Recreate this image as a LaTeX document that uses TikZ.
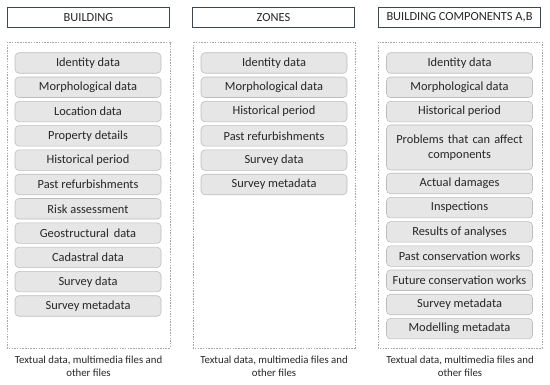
\documentclass[tikz,border=0pt]{standalone}
\usepackage{fontspec}
\setmainfont{Carlito}
\usetikzlibrary{positioning}
\definecolor{HdrBord}{HTML}{3E4651}
\definecolor{ItmFill}{HTML}{E6E6E6}
\definecolor{ItmBord}{HTML}{BDBDBD}
\definecolor{GrpBord}{HTML}{A3A8AE}
\definecolor{TxtMain}{HTML}{262626}
\tikzset{
  every picture/.append style={font=\fontsize{12.4}{14.5}\selectfont, text=TxtMain},
  hdr/.style={rectangle, draw=HdrBord, line width=1.4pt, fill=white,
              minimum width=162pt, minimum height=20pt, inner sep=0pt},
  itm/.style={rectangle, rounded corners=4pt, draw=ItmBord, fill=ItmFill, line width=0.6pt,
              minimum width=146pt, minimum height=20.5pt, inner sep=0pt, align=center},
  grp/.style={draw=GrpBord, line width=0.6pt, dash pattern=on 1.5pt off 1.2pt},
  ftr/.style={align=center, font=\fontsize{10.8}{13.5}\selectfont},
}
\begin{document}
\begin{tikzpicture}[x=1pt,y=1pt]
\useasboundingbox (0,0) rectangle (550,-385);

% ---------------- group backdrops -------------------------------------------------
\draw[grp] (7,-42) rectangle (170,-348);
\draw[grp] (193,-42) rectangle (355,-348);
\draw[grp] (378,-42) rectangle (542,-348);

% ---------------- headers ---------------------------------------------------------
\node[hdr] (hB) at (88.5,-17.5) {BUILDING};
\node[hdr] (hZ) at (273.5,-17.5) {ZONES};
\node[hdr] (hC) at (459.5,-17.5) {BUILDING COMPONENTS A,B};

% ---------------- building --------------------------------------------------------
\node[itm] (b1)  at (88,-63)    {Identity data};
\node[itm] (b2)  at (88,-87.3)  {Morphological data};
\node[itm] (b3)  at (88,-111.6) {Location data};
\node[itm] (b4)  at (88,-135.9) {Property details};
\node[itm] (b5)  at (88,-160.2) {Historical period};
\node[itm] (b6)  at (88,-184.5) {Past refurbishments};
\node[itm] (b7)  at (88,-208.8) {Risk assessment};
\node[itm] (b8)  at (88,-233.1) {Geostructural\, data};
\node[itm] (b9)  at (88,-257.4) {Cadastral data};
\node[itm] (b10) at (88,-281.7) {Survey data};
\node[itm] (b11) at (88,-306)   {Survey metadata};
\node[ftr] (tB) at (88.5,-366.5) {Textual data, multimedia files and\\ other files};

% ---------------- zones -----------------------------------------------------------
\node[itm] (z1) at (274,-63)    {Identity data};
\node[itm] (z2) at (274,-87.3)  {Morphological data};
\node[itm] (z3) at (274,-111.6) {Historical period};
\node[itm] (z4) at (274,-135.9) {Past refurbishments};
\node[itm] (z5) at (274,-160.2) {Survey data};
\node[itm] (z6) at (274,-184.5) {Survey metadata};
\node[ftr] (tZ) at (274,-366.5) {Textual data, multimedia files and\\ other files};

% ---------------- building components ---------------------------------------------
\node[itm] (c1)  at (459.5,-63)    {Identity data};
\node[itm] (c2)  at (459.5,-87.3)  {Morphological data};
\node[itm] (c3)  at (459.5,-111.6) {Historical period};
\node[itm, minimum height=45pt, text width=140pt] (c4) at (459.5,-147.5)
  {Problems that can affect\\ components};
\node[itm] (c5)  at (459.5,-183.5) {Actual damages};
\node[itm] (c6)  at (459.5,-207.7) {Inspections};
\node[itm] (c7)  at (459.5,-231.9) {Results of analyses};
\node[itm] (c8)  at (459.5,-256.1) {Past conservation works};
\node[itm] (c9)  at (459.5,-280.3) {Future conservation works};
\node[itm] (c10) at (459.5,-304.5) {Survey metadata};
\node[itm] (c11) at (459.5,-328.7) {Modelling metadata};
\node[ftr] (tC) at (460,-366.5) {Textual data, multimedia files and\\ other files};

\end{tikzpicture}
\end{document}
